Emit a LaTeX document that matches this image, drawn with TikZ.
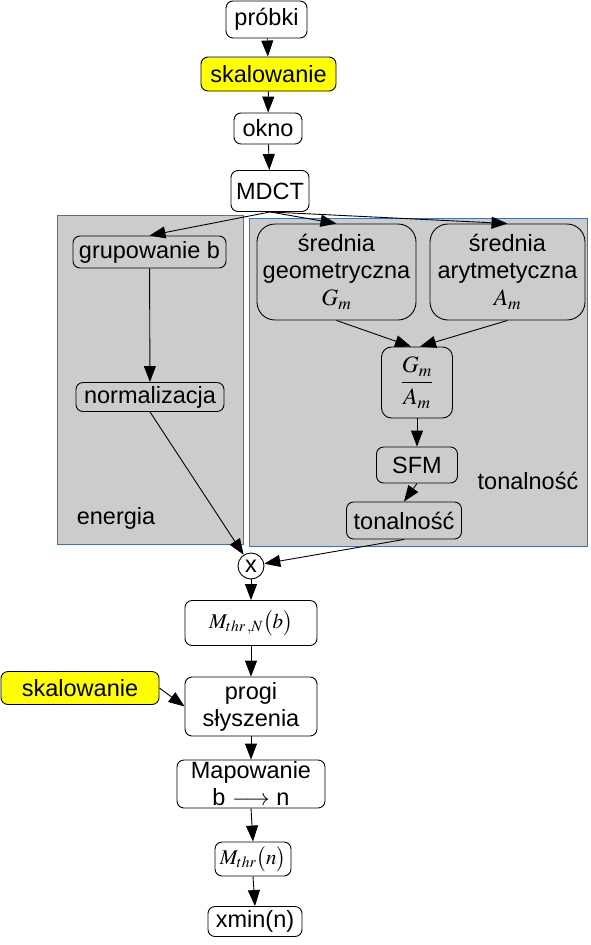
\documentclass[tikz,border=0pt]{standalone}
\usepackage{mathptmx}
\usepackage{fontspec}
\setmainfont{Liberation Sans}
\usepackage{amsmath}
\usepackage{tikz}
\usetikzlibrary{arrows.meta,shapes}
\definecolor{panelgray}{RGB}{204,204,204}
\definecolor{panelline}{RGB}{70,114,170}
\definecolor{scaleyellow}{RGB}{255,255,0}
\tikzstyle{box}       = [draw=black, rounded corners=7pt, align=center, inner sep=0pt, fill=white]
\tikzstyle{inbox}     = [draw=black, rounded corners=7pt, align=center, inner sep=0pt]
\tikzstyle{scalebox}  = [box, fill=scaleyellow]
\tikzstyle{panel}     = [draw=panelline, fill=panelgray, line width=0.8pt]
\tikzstyle{arrow}     = [line width=0.9pt,->,>={Triangle[length=16pt,width=12pt]}]
\newcommand{\smallmath}{\fontsize{21}{24}\selectfont}

\begin{document}
\begin{tikzpicture}[x=1pt,y=-1pt,line width=0.9pt,font=\fontsize{23.5}{27}\selectfont]
        \useasboundingbox (0,0) rectangle (590,945);
        % panels
        \draw[panel] (57,215) rectangle (243,544);
        \draw[panel] (249,218) rectangle (587,546);
        \node (energialbl) at (116,518) {energia};
        \node (tonallbl) at (528,481) {tonalność};

        \node[box, minimum width=81, minimum height=37] (probki) at (266.5,19.5) {próbki};
        \node[scalebox, minimum width=135, minimum height=34] (scaleA) at (268.5,74) {skalowanie};
        \node[box, minimum width=68, minimum height=31] (okno) at (268,128.5) {okno};
        \node[box, minimum width=78, minimum height=41] (mdct) at (270,191) {MDCT};

        \node[inbox, minimum width=153, minimum height=32] (grup) at (149.5,252) {grupowanie b};
        \node[inbox, minimum width=148, minimum height=29] (normal) at (150,397) {normalizacja};

        \node[inbox, rounded corners=18pt, minimum width=159, minimum height=96] (geom) at (336.5,272) {średnia\\geometryczna\\$G_m$};
        \node[inbox, rounded corners=18pt, minimum width=155, minimum height=96] (arit) at (507.5,272) {średnia\\arytmetyczna\\$A_m$};
        \node[inbox, rounded corners=10pt, minimum width=71, minimum height=71] (frac) at (417,382.5) {$\dfrac{G_m}{A_m}$};
        \node[inbox, minimum width=81, minimum height=36] (sfm) at (417,465) {SFM};
        \node[inbox, minimum width=115, minimum height=37] (tonal) at (404,520.5) {tonalność};

        \node[draw, circle, fill=white, minimum size=26, inner sep=0pt] (mul) at (251,566) {x};

        \node[box, minimum width=132, minimum height=45] (mthrN) at (251,623) {\smallmath$M_{thr\,,N}\bigl(b\bigr)$};
        \node[box, minimum width=132, minimum height=59] (progi) at (251,706.5) {progi\\słyszenia};
        \node[scalebox, minimum width=158, minimum height=33] (scaleB) at (80,688) {skalowanie};
        \node[box, minimum width=148, minimum height=48] (mapb) at (251,784) {Mapowanie\\b $\longrightarrow$ n};
        \node[box, minimum width=76, minimum height=34] (mthrn) at (253,859) {\smallmath$M_{thr}\bigl(n\bigr)$};
        \node[box, minimum width=94, minimum height=30] (xmin) at (255,921.5) {xmin(n)};

        \draw[arrow] (probki) -- (scaleA);
        \draw[arrow] (scaleA) -- (okno);
        \draw[arrow] (okno) -- (mdct);
        \draw[arrow] (mdct.south) -- (grup.north);
        \draw[arrow] (mdct.south) -- (geom.north);
        \draw[arrow] (mdct.south) -- (arit.north);
        \draw[arrow] (grup) -- (normal);
        \draw[arrow] (geom.south) -- ([xshift=-6pt]frac.north);
        \draw[arrow] (arit.south) -- ([xshift=3pt]frac.north);
        \draw[arrow] (frac) -- (sfm);
        \draw[arrow] (sfm.south) -- (tonal.north);
        \draw[arrow] (normal.south) -- (mul);
        \draw[arrow] (tonal.south) -- (mul);
        \draw[arrow] (mul) -- (mthrN);
        \draw[arrow] (mthrN) -- (progi);
        \draw[arrow] (scaleB.east) -- (progi.west);
        \draw[arrow] (progi) -- (mapb);
        \draw[arrow] (mapb.south) -- (mthrn.north);
        \draw[arrow] (mthrn.south) -- (xmin.north);
    \end{tikzpicture}
\end{document}
